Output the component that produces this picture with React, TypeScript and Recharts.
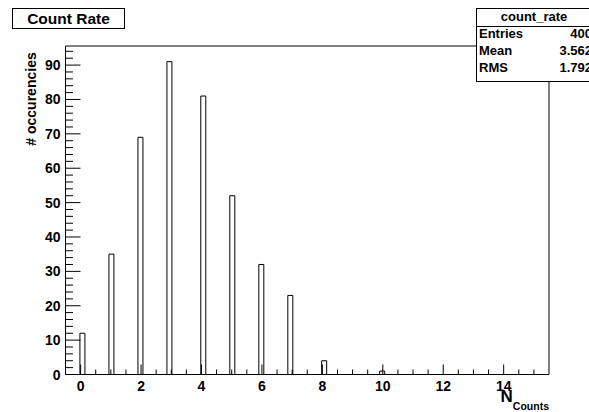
import React from 'react';
import { BarChart, Bar, XAxis, YAxis } from 'recharts';

// count_rate histogram: 100 bins over [-0.5, 15.5], only the filled bins listed
const binCenters = [0.06, 1.02, 1.98, 2.94, 4.06, 5.02, 5.98, 6.94, 8.06, 9.98];
const counts = [12, 35, 69, 91, 81, 52, 32, 23, 4, 1];

const xTicks = Array.from({ length: 31 }, (_, i) => i * 0.5);
const yTicks = Array.from({ length: 48 }, (_, i) => i * 2);

const statLabels = ['Entries', 'Mean', 'RMS'];
const statValues = ['400', '3.562', '1.792'];

const data = binCenters.map((x, i) => ({ x, count: counts[i] }));

const FONT = '"Liberation Sans", Arial, Helvetica, sans-serif';

const XTick = (props: any) => {
  const { x, y, payload } = props;
  const v = payload.value;
  const major = v % 2 === 0;
  return (
    <g>
      <line x1={x} x2={x} y1={y} y2={y - (major ? 10 : 5)} stroke="#000" />
      {major && (
        <text x={x} y={y + 16} textAnchor="middle" fontWeight="bold" fontSize={14} fontFamily={FONT} fill="#000">
          {v}
        </text>
      )}
    </g>
  );
};

const YTick = (props: any) => {
  const { x, y, payload } = props;
  const v = payload.value;
  const major = v % 10 === 0;
  return (
    <g>
      <line x1={x} x2={x + (major ? 15 : 7.5)} y1={y} y2={y} stroke="#000" />
      {major && (
        <text x={x - 5} y={y + 5} textAnchor="end" fontWeight="bold" fontSize={14} fontFamily={FONT} fill="#000">
          {v}
        </text>
      )}
    </g>
  );
};

export default function App() {
  return (
    <div style={{ position: 'absolute', left: 0, top: 0, width: 589, height: 412, overflow: 'hidden', background: '#fff', fontFamily: FONT }}>
      <BarChart width={589} height={412} data={data} margin={{ top: 36, right: 30, bottom: 7.5, left: 5.5 }}>
        <XAxis
          dataKey="x"
          type="number"
          domain={[-0.5, 15.5]}
          ticks={xTicks}
          interval={0}
          height={30}
          tickSize={0}
          tickMargin={0}
          tickLine={false}
          tick={<XTick />}
          axisLine={{ stroke: '#000' }}
        />
        <XAxis
          xAxisId="top"
          orientation="top"
          type="number"
          dataKey="x"
          domain={[-0.5, 15.5]}
          height={10}
          tick={false}
          tickLine={false}
          axisLine={{ stroke: '#000' }}
        />
        <YAxis
          type="number"
          domain={[0, 95.55]}
          ticks={yTicks}
          interval={0}
          width={60}
          tickSize={0}
          tickMargin={0}
          tickLine={false}
          tick={<YTick />}
          axisLine={{ stroke: '#000' }}
        />
        <YAxis
          yAxisId="right"
          orientation="right"
          type="number"
          domain={[0, 95.55]}
          width={10}
          tick={false}
          tickLine={false}
          axisLine={{ stroke: '#000' }}
        />
        <Bar dataKey="count" barSize={5} fill="#fff" stroke="#000" strokeWidth={1} isAnimationActive={false} />
      </BarChart>

      <svg width={589} height={412} style={{ position: 'absolute', left: 0, top: 0, pointerEvents: 'none' }} fontFamily={FONT}>
        {/* title box */}
        <rect x={12.5} y={8.5} width={112} height={20} fill="#fff" stroke="#000" />
        <text x={68.5} y={24} textAnchor="middle" fontWeight="bold" fontSize={15.5}>Count Rate</text>

        {/* stats box */}
        <rect x={476.5} y={8.5} width={130} height={73} fill="#fff" stroke="#000" />
        <line x1={476.5} x2={589} y1={26.5} y2={26.5} stroke="#000" />
        <text x={534} y={21} textAnchor="middle" fontWeight="bold" fontSize={13}>count_rate</text>
        {statLabels.map((s, i) => (
          <g key={s}>
            <text x={479} y={38 + i * 17} fontWeight="bold" fontSize={13}>{s}</text>
            <text x={592} y={38 + i * 17} textAnchor="end" fontWeight="bold" fontSize={13}>{statValues[i]}</text>
          </g>
        ))}

        {/* axis titles */}
        <text transform="translate(35.5, 99) rotate(-90)" textAnchor="middle" fontWeight="bold" fontSize={14}># occurencies</text>
        <text x={549} y={401.5} textAnchor="end" fontWeight="bold">
          <tspan fontSize={17}>N</tspan>
          <tspan fontSize={10.5} dy={8}>Counts</tspan>
        </text>
      </svg>
    </div>
  );
}
